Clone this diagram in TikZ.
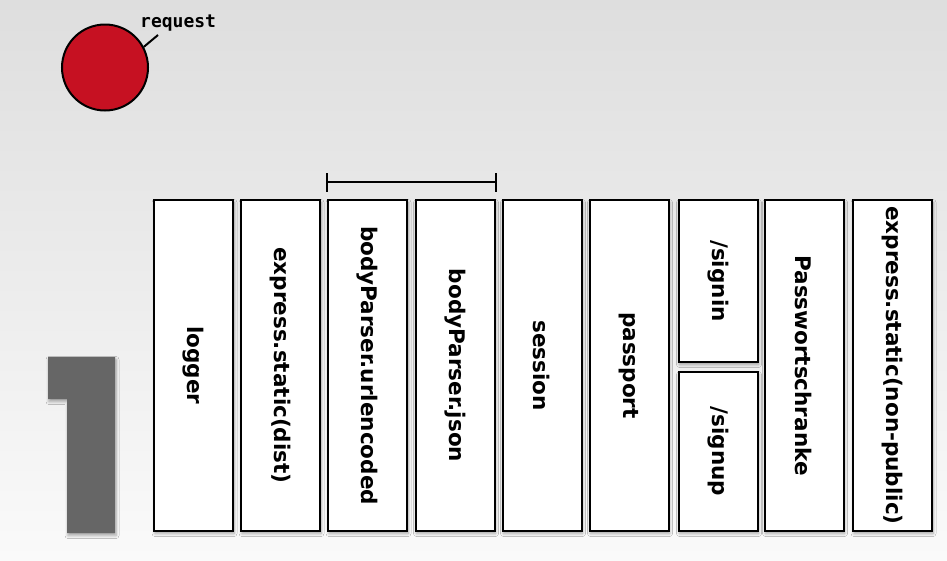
\documentclass[tikz,border=0pt]{standalone}
\usepackage{fontspec}
\setmainfont{DejaVu Sans}
\newfontfamily\reqmono{DejaVu Sans Mono}
\usetikzlibrary{shadows.blur,calc}

\definecolor{bgtop}{RGB}{222,222,222}
\definecolor{bgbottom}{RGB}{250,250,250}
\definecolor{reqred}{RGB}{198,17,34}
\definecolor{digitgray}{RGB}{102,102,102}

\tikzset{
  softshadow/.style={blur shadow={shadow xshift=1pt, shadow yshift=-2.5pt,
      shadow blur radius=3pt, shadow blur steps=6, shadow opacity=35}},
  mw/.style={draw=black, line width=2pt, fill=white, minimum width=79pt,
      inner sep=0pt, font=\bfseries\fontsize{21.5}{21.5}\selectfont, softshadow},
  tall/.style={mw, minimum height=331pt},
  thickline/.style={line width=2pt, draw=black},
}
\newcommand{\vtext}[1]{\rotatebox{-90}{#1}}

\begin{document}
\begin{tikzpicture}[x=1pt,y=-1pt]
  % background
  \shade[top color=bgtop, bottom color=bgbottom] (0,0) rectangle (947,560);
  \useasboundingbox (0,0) rectangle (947,560);

  % request token
  \node[circle, thickline, fill=reqred, minimum size=86pt, inner sep=0pt]
    (req) at (105,67.5) {};
  \node[anchor=base west, inner sep=0pt,
        font=\reqmono\bfseries\fontsize{18}{18}\selectfont]
    (reqlabel) at (140,27) {request};
  \coordinate (reqend) at (158,35);
  \draw[thickline] (req.28) -- (reqend);

  % big step number
  \fill[digitgray, softshadow]
    (48,357) -- (115,357) -- (115,533) -- (67,533) -- (67,399) -- (48,399) -- cycle;

  % middleware stack
  \node[tall] (logger)  at (193.5,365.5) {\vtext{logger}};
  \node[tall] (static)  at (280.5,365.5) {\vtext{express.static(dist)}};
  \node[tall] (urlenc)  at (367.5,365.5) {\vtext{bodyParser.urlencoded}};
  \node[tall] (json)    at (455,365.5)   {\vtext{bodyParser.json}};
  \node[tall] (session) at (542,365.5)   {\vtext{session}};
  \node[tall] (passport) at (629,365.5)  {\vtext{passport}};
  \node[mw, minimum height=162pt] (signin) at (718,281)   {\vtext{/signin}};
  \node[mw, minimum height=159pt] (signup) at (718,451.5) {\vtext{/signup}};
  \node[tall] (schranke) at (804,365.5)  {\vtext{Passwortschranke}};
  \node[tall] (nonpub)  at (892.5,365.5) {\vtext{express.static(non-public)}};

  % bracket over the body parsers
  \coordinate (brl) at ($(urlenc.north west)+(0,-17)$);
  \coordinate (brr) at ($(json.north east)+(0,-17)$);
  \draw[thickline] (brl) -- (brr);
  \draw[thickline] ($(brl)+(0,-9)$) -- ($(brl)+(0,10)$);
  \draw[thickline] ($(brr)+(0,-9)$) -- ($(brr)+(0,10)$);
\end{tikzpicture}
\end{document}
